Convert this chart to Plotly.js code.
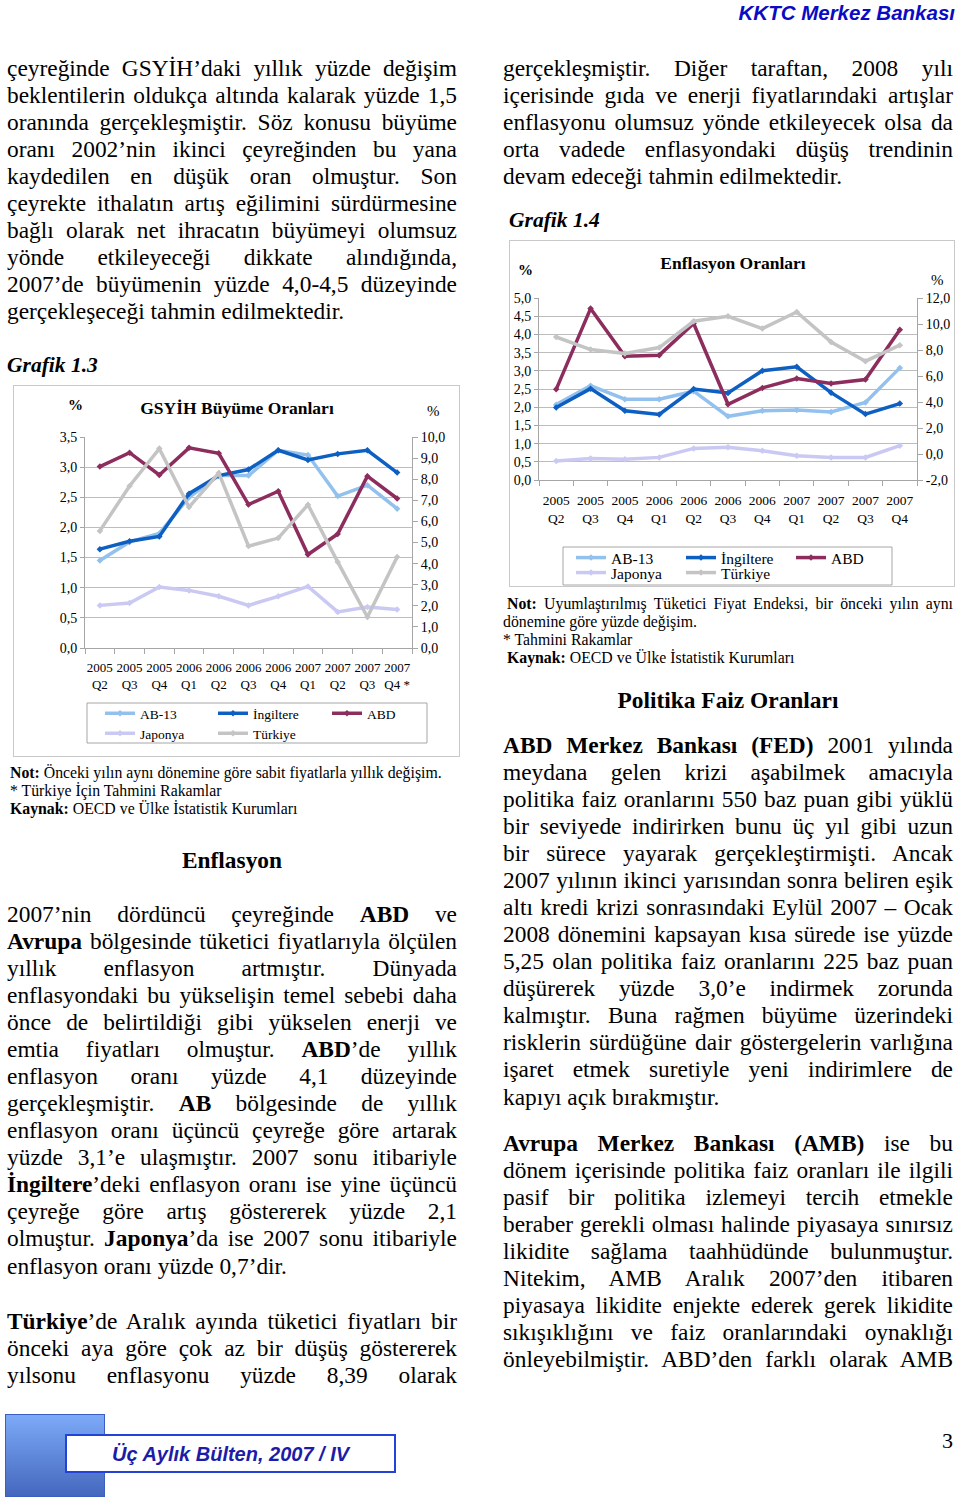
<!DOCTYPE html>
<html><head><meta charset="utf-8">
<script src="https://cdn.plot.ly/plotly-3.0.1.min.js"></script>
<style>
body{margin:0;background:#fff;}
#page{position:relative;width:960px;height:1504px;overflow:hidden;font-family:'Liberation Serif','Times New Roman',serif;color:#000;background:#fff;}
.blk{position:absolute;font-size:23.4px;line-height:27.08px;}
.blk>div{height:27.08px;text-align:justify;text-align-last:justify;}
.blk>div.e{text-align-last:left;}
.note{position:absolute;font-size:15.8px;line-height:18px;}
.note>div{height:18px;white-space:nowrap;}
.note>div.j{text-align:justify;text-align-last:justify;white-space:normal;}
.head{position:absolute;font-weight:bold;font-size:23.4px;line-height:28px;text-align:center;}
.graf{position:absolute;font-weight:bold;font-style:italic;font-size:21.5px;line-height:26px;}
.box{position:absolute;border:1px solid #c9c9c9;box-sizing:border-box;}
.chart{position:absolute;}
</style></head>
<body><div id="page">

<div style="position:absolute;left:600px;top:0px;width:355px;text-align:right;font-family:'Liberation Sans',Arial,sans-serif;font-weight:bold;font-style:italic;font-size:20.5px;line-height:26px;color:#0b0bc4;">KKTC Merkez Bankası</div>

<div class="blk" style="left:7px;top:54.5px;width:450px;">
<div>çeyreğinde GSYİH’daki yıllık yüzde değişim</div>
<div>beklentilerin oldukça altında kalarak yüzde 1,5</div>
<div>oranında gerçekleşmiştir. Söz konusu büyüme</div>
<div>oranı 2002’nin ikinci çeyreğinden bu yana</div>
<div>kaydedilen en düşük oran olmuştur. Son</div>
<div>çeyrekte ithalatın artış eğilimini sürdürmesine</div>
<div>bağlı olarak net ihracatın büyümeyi olumsuz</div>
<div>yönde etkileyeceği dikkate alındığında,</div>
<div>2007’de büyümenin yüzde 4,0-4,5 düzeyinde</div>
<div class="e">gerçekleşeceği tahmin edilmektedir.</div>
</div>

<div class="graf" style="left:7px;top:352px;">Grafik 1.3</div>
<div class="box" style="left:13px;top:385px;width:447px;height:372px;"></div>
<div id="c1" class="chart" style="left:13px;top:385px;width:446px;height:400px;"></div>

<div class="note" style="left:10px;top:764px;width:450px;">
<div><b>Not:</b> Önceki yılın aynı dönemine göre sabit fiyatlarla yıllık değişim.</div>
<div>* Türkiye İçin Tahmini Rakamlar</div>
<div><b>Kaynak:</b> OECD ve Ülke İstatistik Kurumları</div>
</div>

<div class="head" style="left:7px;top:846px;width:450px;">Enflasyon</div>

<div class="blk" style="left:7px;top:900.5px;width:450px;">
<div>2007’nin dördüncü çeyreğinde <b>ABD</b> ve</div>
<div><b>Avrupa</b> bölgesinde tüketici fiyatlarıyla ölçülen</div>
<div>yıllık enflasyon artmıştır. Dünyada</div>
<div>enflasyondaki bu yükselişin temel sebebi daha</div>
<div>önce de belirtildiği gibi yükselen enerji ve</div>
<div>emtia fiyatları olmuştur. <b>ABD</b>’de yıllık</div>
<div>enflasyon oranı yüzde 4,1 düzeyinde</div>
<div>gerçekleşmiştir. <b>AB</b> bölgesinde de yıllık</div>
<div>enflasyon oranı üçüncü çeyreğe göre artarak</div>
<div>yüzde 3,1’e ulaşmıştır. 2007 sonu itibariyle</div>
<div><b>İngiltere</b>’deki enflasyon oranı ise yine üçüncü</div>
<div>çeyreğe göre artış göstererek yüzde 2,1</div>
<div>olmuştur. <b>Japonya</b>’da ise 2007 sonu itibariyle</div>
<div class="e">enflasyon oranı yüzde 0,7’dir.</div>
</div>

<div class="blk" style="left:7px;top:1307.5px;width:450px;">
<div><b>Türkiye</b>’de Aralık ayında tüketici fiyatları bir</div>
<div>önceki aya göre çok az bir düşüş göstererek</div>
<div>yılsonu enflasyonu yüzde 8,39 olarak</div>
</div>

<div class="blk" style="left:503px;top:54.5px;width:450px;">
<div>gerçekleşmiştir. Diğer taraftan, 2008 yılı</div>
<div>içerisinde gıda ve enerji fiyatlarındaki artışlar</div>
<div>enflasyonu olumsuz yönde etkileyecek olsa da</div>
<div>orta vadede enflasyondaki düşüş trendinin</div>
<div class="e">devam edeceği tahmin edilmektedir.</div>
</div>

<div class="graf" style="left:509px;top:207px;">Grafik 1.4</div>
<div class="box" style="left:509px;top:240px;width:446px;height:347px;"></div>
<div id="c2" class="chart" style="left:510px;top:240px;width:444px;height:377px;"></div>

<div class="note" style="left:503px;top:595px;width:450px;">
<div class="j" style="padding-left:4px;"><b>Not:</b> Uyumlaştırılmış Tüketici Fiyat Endeksi, bir önceki yılın aynı</div>
<div>dönemine göre yüzde değişim.</div>
<div>* Tahmini Rakamlar</div>
<div style="padding-left:4px;"><b>Kaynak:</b> OECD ve Ülke İstatistik Kurumları</div>
</div>

<div class="head" style="left:503px;top:686px;width:450px;">Politika Faiz Oranları</div>

<div class="blk" style="left:503px;top:731.5px;width:450px;">
<div><b>ABD Merkez Bankası (FED)</b> 2001 yılında</div>
<div>meydana gelen krizi aşabilmek amacıyla</div>
<div>politika faiz oranlarını 550 baz puan gibi yüklü</div>
<div>bir seviyede indirirken bunu üç yıl gibi uzun</div>
<div>bir sürece yayarak gerçekleştirmişti. Ancak</div>
<div>2007 yılının ikinci yarısından sonra beliren eşik</div>
<div>altı kredi krizi sonrasındaki Eylül 2007 – Ocak</div>
<div>2008 dönemini kapsayan kısa sürede ise yüzde</div>
<div>5,25 olan politika faiz oranlarını 225 baz puan</div>
<div>düşürerek yüzde 3,0’e indirmek zorunda</div>
<div>kalmıştır. Buna rağmen büyüme üzerindeki</div>
<div>risklerin sürdüğüne dair göstergelerin varlığına</div>
<div>işaret etmek suretiyle yeni indirimlere de</div>
<div class="e">kapıyı açık bırakmıştır.</div>
</div>

<div class="blk" style="left:503px;top:1129.5px;width:450px;">
<div><b>Avrupa Merkez Bankası (AMB)</b> ise bu</div>
<div>dönem içerisinde politika faiz oranları ile ilgili</div>
<div>pasif bir politika izlemeyi tercih etmekle</div>
<div>beraber gerekli olması halinde piyasaya sınırsız</div>
<div>likidite sağlama taahhüdünde bulunmuştur.</div>
<div>Nitekim, AMB Aralık 2007’den itibaren</div>
<div>piyasaya likidite enjekte ederek gerek likidite</div>
<div>sıkışıklığını ve faiz oranlarındaki oynaklığı</div>
<div>önleyebilmiştir. ABD’den farklı olarak AMB</div>
</div>

<div style="position:absolute;left:5px;top:1414px;width:100px;height:83px;box-sizing:border-box;border:1px solid #3a5fc0;background:linear-gradient(#7caaf8,#4467bd);"></div>
<div style="position:absolute;left:65px;top:1434px;width:331px;height:39px;box-sizing:border-box;border:2px solid #2342d6;background:#fff;"></div>
<div style="position:absolute;left:112px;top:1441px;font-family:'Liberation Sans',Arial,sans-serif;font-weight:bold;font-style:italic;font-size:20px;line-height:26px;color:#1c1ca8;">Üç Aylık Bülten, 2007 / IV</div>
<div style="position:absolute;left:930px;top:1428px;width:23px;text-align:right;font-size:22px;line-height:26px;">3</div>

</div>
<script>
// ---- data ----
const quarterYears = ['2005','2005','2005','2006','2006','2006','2006','2007','2007','2007','2007'];
const quarterNames = ['Q2','Q3','Q4','Q1','Q2','Q3','Q4','Q1','Q2','Q3','Q4'];
const gdpQuarterNames = ['Q2','Q3','Q4','Q1','Q2','Q3','Q4','Q1','Q2','Q3','Q4 *'];
const seriesNames = ['AB-13','İngiltere','ABD','Japonya','Türkiye'];

// GSYİH büyüme (AB-13, İngiltere, ABD: sol eksen; Japonya, Türkiye: sağ eksen)
const gdpAB13 = [1.45,1.76,1.90,2.50,2.86,2.86,3.28,3.20,2.52,2.70,2.31];
const gdpUK   = [1.64,1.77,1.85,2.56,2.86,2.96,3.28,3.12,3.22,3.28,2.91];
const gdpUS   = [3.01,3.24,2.87,3.32,3.23,2.38,2.60,1.55,1.89,2.85,2.48];
const gdpJP   = [2.02,2.13,2.89,2.73,2.45,2.02,2.45,2.92,1.71,1.94,1.83];
const gdpTR   = [5.55,7.68,9.45,6.68,8.29,4.83,5.21,6.79,4.08,1.47,4.31];

// Enflasyon (AB-13, İngiltere, ABD: sol eksen; Japonya, Türkiye: sağ eksen)
const cpiAB13 = [2.07,2.59,2.22,2.22,2.44,1.75,1.90,1.92,1.87,2.13,3.08];
const cpiUK   = [1.99,2.51,1.90,1.80,2.50,2.39,3.00,3.11,2.40,1.81,2.10];
const cpiUS   = [2.49,4.71,3.40,3.43,4.30,2.08,2.53,2.79,2.65,2.76,4.13];
const cpiJP   = [-0.54,-0.34,-0.41,-0.26,0.43,0.51,0.25,-0.13,-0.26,-0.26,0.64];
const cpiTR   = [9.00,8.03,7.73,8.19,10.21,10.59,9.65,10.92,8.62,7.14,8.37];

// axis ticks
const gdpLeftTicks  = [0,0.5,1,1.5,2,2.5,3,3.5];
const gdpRightTicks = [0,1,2,3,4,5,6,7,8,9,10];
const cpiLeftTicks  = [0,0.5,1,1.5,2,2.5,3,3.5,4,4.5,5];
const cpiRightTicks = [-2,0,2,4,6,8,10,12];

// ---- styles ----
const colors = ['#93c1ed','#0d5fc2','#8c2d5e','#c9c9f4','#c4c4c4'];
const periods = quarterYears.map((y,i)=>y+' '+quarterNames[i]);
const fmt = v => v.toFixed(1).replace('.',',');
const legendIds = ['legend','legend2','legend3','legend4','legend5'];

function traces(vals){
  return vals.map((v,i)=>({
    type:'scatter', mode:'lines+markers', name:seriesNames[i], x:periods, y:v,
    yaxis: i>=3 ? 'y2':'y', legend: legendIds[i],
    line:{color:colors[i], width:3.5},
    marker:{color:colors[i], size:5, symbol:'diamond'},
    hoverinfo:'skip'
  }));
}

const FONT = 'Liberation Serif, Times New Roman, serif';
const AX = '#a6a6a6';

function makeLayout(o){
  const pw = o.w - o.l - o.r, ph = o.plotH;
  const px = x => (x - o.l)/pw;
  const py = y => 1 + (o.t - y)/ph;
  const L = {
    width:o.w, height:o.h,
    margin:{l:o.l, r:o.r, t:o.t, b:o.h - o.t - ph, pad:0},
    paper_bgcolor:'rgba(0,0,0,0)', plot_bgcolor:'rgba(0,0,0,0)',
    separators:',.',
    font:{family:FONT, size:14, color:'#000'},
    showlegend:true,
    title:{text:o.title, font:{family:FONT, size:o.titleSize, color:'#000', weight:'bold'},
      x:o.titleX/o.w, xanchor:'center', xref:'container', y:1 - o.titleY/o.h, yanchor:'middle', yref:'container'},
    xaxis:{type:'category', tickvals:periods, ticktext:o.ticktext, range:[-0.5,10.5], tickangle:0,
      showgrid:false, showline:true, linecolor:AX, linewidth:1, ticks:'outside', tickson:'boundaries',
      ticklen:5, tickcolor:AX, tickfont:{size:o.xFont}, ticklabelstandoff:o.xStand, automargin:false, fixedrange:true},
    yaxis:{range:[o.yt[0], o.yt[o.yt.length-1]], tickvals:o.yt, ticktext:o.yt.map(fmt), showgrid:true, gridcolor:'#bdbdbd', gridwidth:1,
      showline:true, linecolor:AX, ticks:'outside', ticklen:4, tickcolor:AX, zeroline:false,
      tickfont:{size:14}, automargin:false, fixedrange:true},
    yaxis2:{overlaying:'y', side:'right', range:[o.y2t[0], o.y2t[o.y2t.length-1]], tickvals:o.y2t, ticktext:o.y2t.map(fmt), showgrid:false,
      showline:true, linecolor:AX, ticks:'outside', ticklen:5, tickcolor:AX, zeroline:false,
      tickfont:{size:14}, automargin:false, fixedrange:true},
    shapes:[{type:'rect', xref:'paper', yref:'paper', x0:px(o.legBox[0]), x1:px(o.legBox[2]),
      y0:py(o.legBox[3]), y1:py(o.legBox[1]), line:{color:'#a6a6a6', width:1}, fillcolor:'rgba(0,0,0,0)', layer:'above'}],
    annotations:[
      {text:'%', xref:'paper', yref:'paper', x:px(o.pctL[0]), y:py(o.pctL[1]), showarrow:false, xanchor:'center', yanchor:'middle', font:{size:15, weight:'bold'}},
      {text:'%', xref:'paper', yref:'paper', x:px(o.pctR[0]), y:py(o.pctR[1]), showarrow:false, xanchor:'center', yanchor:'middle', font:{size:15}}
    ]
  };
  // one legend per entry: [left px, row top px]
  o.legPos.forEach((p,i)=>{
    L[legendIds[i]] = {orientation:'h', x:px(p[0]), xanchor:'left', y:py(p[1]), yanchor:'top',
      borderwidth:0, bgcolor:'rgba(0,0,0,0)', font:{size:o.legFont, color:'#000'}, itemwidth:30};
  });
  return L;
}

const tick1 = quarterYears.map((y,i)=>y+'<br>'+gdpQuarterNames[i]);
const tick2 = quarterYears.map((y,i)=>y+'<br>'+quarterNames[i]);

// chart 1 div origin: (13,385)
const L1 = makeLayout({w:446, h:400, l:72, r:47, t:52, plotH:211,
  title:'GSYİH Büyüme Oranları', titleSize:17.5, titleX:224, titleY:23,
  ticktext:tick1, xFont:13, xStand:7, yt:gdpLeftTicks, y2t:gdpRightTicks,
  legFont:13.5, legBox:[74,318,414,358],
  legPos:[[87,313],[200,313],[314,313],[87,333],[200,333]],
  pctL:[62,20], pctR:[420,26]});

// chart 2 div origin: (510,240)
const L2 = makeLayout({w:444, h:377, l:29, r:37, t:58, plotH:182,
  title:'Enflasyon Oranları', titleSize:17.5, titleX:223, titleY:23,
  ticktext:tick2, xFont:13.5, xStand:8, yt:cpiLeftTicks, y2t:cpiRightTicks,
  legFont:15.5, legBox:[53,307,382,345],
  legPos:[[61,301],[171,301],[281,301],[61,316],[171,316]],
  pctL:[15,30], pctR:[427,40]});

Plotly.newPlot('c1', traces([gdpAB13,gdpUK,gdpUS,gdpJP,gdpTR]), L1, {displayModeBar:false, staticPlot:true});
Plotly.newPlot('c2', traces([cpiAB13,cpiUK,cpiUS,cpiJP,cpiTR]), L2, {displayModeBar:false, staticPlot:true});
</script>
</body></html>
